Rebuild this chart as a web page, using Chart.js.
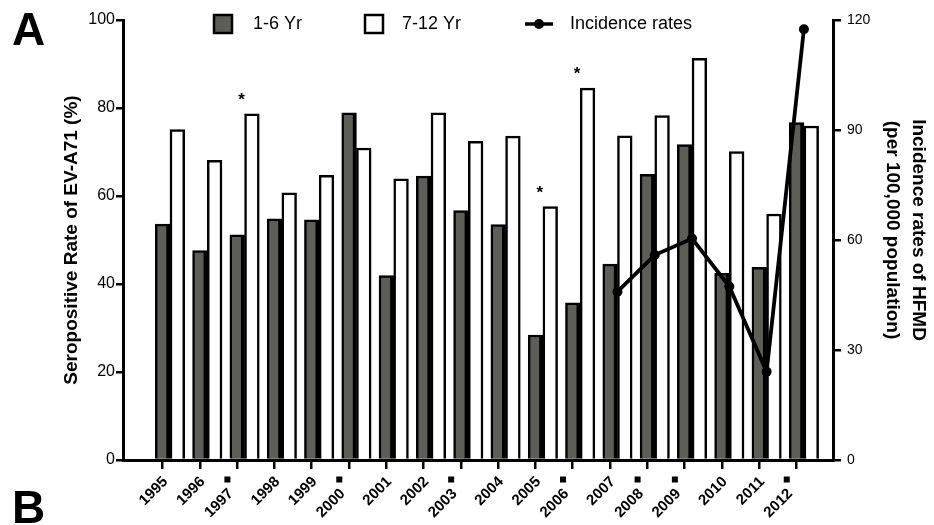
<!DOCTYPE html>
<html>
<head>
<meta charset="utf-8">
<script src="https://cdn.jsdelivr.net/npm/chart.js@4.4.1/dist/chart.umd.min.js"></script>
<style>
  html, body { margin: 0; padding: 0; background: #fff; }
  #wrap { width: 934px; height: 525px; position: relative; }
</style>
</head>
<body>
<div id="wrap"><canvas id="chart" width="934" height="525"></canvas></div>
<script>
// Survey years
const years = ['1995','1996','1997','1998','1999','2000','2001','2002','2003',
               '2004','2005','2006','2007','2008','2009','2010','2011','2012'];
// Seropositive rate of EV-A71 (%), children aged 1-6
const young = [53.6, 47.6, 51.2, 54.8, 54.6, 78.9, 41.9, 64.5, 56.7,
               53.5, 28.4, 35.7, 44.5, 64.9, 71.7, 42.4, 43.8, 76.7];
// Seropositive rate of EV-A71 (%), children aged 7-12
const older = [75.1, 68.1, 78.7, 60.7, 64.7, 70.9, 63.9, 78.9, 72.4,
               73.6, 57.6, 84.5, 73.7, 78.3, 91.3, 70.1, 55.9, 75.9];
// HFMD incidence per 100,000 population (reported from 2007 on)
const incidence = [null, null, null, null, null, null, null, null, null,
                   null, null, null, 45.9, 55.9, 60.4, 47.3, 24.1, 117.5];
// Years carrying a footnote marker
const footnoted = ['1997','2000','2003','2006','2008','2009','2012'];
// Years with a significant difference between the two age groups
const significant = ['1997','2005','2006'];
// Axis ticks
const leftTicks = [0, 20, 40, 60, 80, 100];
const rightTicks = [0, 30, 60, 90, 120];
// Right axis title lines
const rightTitle = ['Incidence rates of HFMD', '(per 100,000 population)'];

const FONT = "'Liberation Sans', Arial, Helvetica, sans-serif";
const DARK = '#5d5e57';
Chart.defaults.font.family = FONT;
Chart.defaults.color = '#000';

const toPoints = arr => arr.map((v, i) => (v == null ? null : { x: i, y: v })).filter(Boolean);

const decorations = {
  id: 'decorations',
  afterDraw(chart) {
    const { ctx } = chart;
    const xs = chart.scales.x;
    ctx.save();
    ctx.fillStyle = '#000';

    // rotated year labels, with raised footnote squares
    ctx.font = `bold 15px ${FONT}`;
    years.forEach((yr, i) => {
      const ax = xs.getPixelForValue(i - 0.2) + 3;
      const ay = xs.top + 19.5;
      ctx.save();
      ctx.translate(ax, ay);
      ctx.rotate(-Math.PI / 4);
      ctx.textAlign = 'right';
      ctx.textBaseline = 'middle';
      if (footnoted.includes(yr)) {
        ctx.fillText(yr, -15, 2);
      } else {
        ctx.fillText(yr, 0, 0);
      }
      ctx.restore();
      if (footnoted.includes(yr)) {
        ctx.fillRect(ax - 12.7 - 3, ay - 3, 6, 6);
      }
    });

    // significance asterisks above the 7-12 Yr bars
    const metaOld = chart.getDatasetMeta(2);
    ctx.font = `bold 17px ${FONT}`;
    ctx.textAlign = 'center';
    ctx.textBaseline = 'alphabetic';
    significant.forEach(yr => {
      const i = years.indexOf(yr);
      const bar = metaOld.data[i];
      ctx.fillText('*', xs.getPixelForValue(i) - 3, bar.y - 9);
    });

    // right axis title, two lines reading downwards
    const ys = chart.scales.y2;
    ctx.save();
    ctx.translate(ys.right - 16, (ys.top + ys.bottom) / 2 - 10);
    ctx.rotate(Math.PI / 2);
    ctx.font = `bold 19px ${FONT}`;
    ctx.textAlign = 'center';
    ctx.textBaseline = 'middle';
    rightTitle.forEach((line, k) => ctx.fillText(line, 0, k * 26));
    ctx.restore();

    // legend row
    const ds = chart.data.datasets;
    ctx.font = `18px ${FONT}`;
    ctx.textAlign = 'left';
    ctx.textBaseline = 'middle';
    const ly = 24;
    const box = (x, fill) => {
      ctx.fillStyle = fill;
      ctx.fillRect(x, ly - 9, 18, 18);
      ctx.strokeStyle = '#000';
      ctx.lineWidth = 2.5;
      ctx.strokeRect(x, ly - 9, 18, 18);
    };
    box(214, ds[1].backgroundColor);
    ctx.fillStyle = '#000';
    ctx.fillText(ds[1].label, 253, ly);
    box(365, ds[2].backgroundColor);
    ctx.fillStyle = '#000';
    ctx.fillText(ds[2].label, 402, ly);
    ctx.strokeStyle = '#000';
    ctx.lineWidth = 3.5;
    ctx.beginPath();
    ctx.moveTo(525, ly);
    ctx.lineTo(553, ly);
    ctx.stroke();
    ctx.beginPath();
    ctx.arc(539, ly, 5, 0, Math.PI * 2);
    ctx.fill();
    ctx.fillText(ds[0].label, 570, ly);

    // panel letters
    ctx.font = `bold 46px ${FONT}`;
    ctx.textBaseline = 'alphabetic';
    ctx.fillText('A', 12, 45);
    ctx.fillText('B', 12, 523);
    ctx.restore();
  }
};

new Chart(document.getElementById('chart'), {
  type: 'bar',
  data: {
    datasets: [
      {
        type: 'line',
        label: 'Incidence rates',
        data: toPoints(incidence),
        yAxisID: 'y2',
        borderColor: '#000',
        borderWidth: 3.8,
        pointRadius: 5,
        pointBackgroundColor: '#000',
        pointBorderColor: '#000',
        pointBorderWidth: 0,
        tension: 0,
        order: 0
      },
      {
        label: '1-6 Yr',
        data: toPoints(young),
        yAxisID: 'y',
        backgroundColor: DARK,
        borderColor: '#000',
        borderWidth: { top: 2.5, left: 2.5, right: 4, bottom: 0 },
        barThickness: 14.7,
        order: 1
      },
      {
        label: '7-12 Yr',
        data: toPoints(older),
        yAxisID: 'y',
        backgroundColor: '#fff',
        borderColor: '#000',
        borderWidth: { top: 2.5, left: 2.5, right: 2.5, bottom: 0 },
        barThickness: 14.7,
        order: 1
      }
    ]
  },
  options: {
    responsive: false,
    animation: false,
    events: [],
    layout: { padding: { top: 20, bottom: 0, left: 0, right: 0 } },
    plugins: { legend: { display: false }, tooltip: { enabled: false } },
    scales: {
      x: {
        type: 'linear',
        min: -1.26,
        max: 17.78,
        offset: false,
        afterBuildTicks: s => { s.ticks = years.map((_, i) => ({ value: i - 0.2 })); },
        afterFit: s => { s.height = 65; },
        grid: { display: true, drawOnChartArea: false, drawTicks: true, tickLength: 9, offset: false, color: '#000', lineWidth: 2.5 },
        border: { display: true, color: '#000', width: 3 },
        ticks: { display: false, callback: (v, i) => years[i] }
      },
      y: {
        position: 'left',
        min: 0,
        max: 100,
        afterBuildTicks: s => { s.ticks = leftTicks.map(v => ({ value: v })); },
        afterFit: s => { s.width = 123; },
        grid: { drawOnChartArea: false, drawTicks: true, tickLength: 7, color: '#000', lineWidth: 2.5 },
        border: { display: true, color: '#000', width: 3 },
        ticks: { padding: 1, color: '#000', font: { size: 16 } },
        title: {
          display: true,
          text: 'Seropositive Rate of EV-A71 (%)',
          color: '#000',
          font: { size: 19, weight: 'bold' },
          padding: { top: 60, bottom: 0 }
        }
      },
      y2: {
        position: 'right',
        min: 0,
        max: 120,
        afterBuildTicks: s => { s.ticks = rightTicks.map(v => ({ value: v })); },
        afterFit: s => { s.width = 101; },
        grid: { drawOnChartArea: false, drawTicks: true, tickLength: 8, color: '#000', lineWidth: 2.5 },
        border: { display: true, color: '#000', width: 3 },
        ticks: { padding: 6, color: '#000', font: { size: 14 } },
        title: { display: false }
      }
    }
  },
  plugins: [decorations]
});
</script>
</body>
</html>
